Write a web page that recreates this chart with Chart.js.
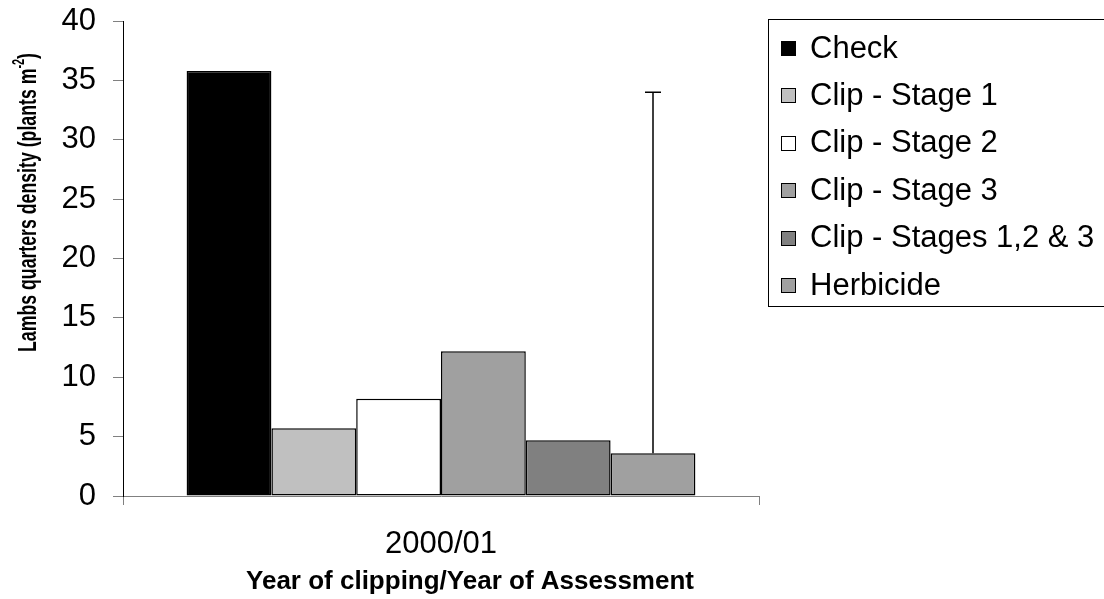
<!DOCTYPE html>
<html>
<head>
<meta charset="utf-8">
<script src="https://cdn.jsdelivr.net/npm/chart.js@4.4.1/dist/chart.umd.min.js"></script>
<style>
  html, body { margin: 0; padding: 0; background: #ffffff; }
  #c { display: block; }
</style>
</head>
<body>
<canvas id="c" width="1104" height="599"></canvas>
<script>
// ---- data ----
const categories = ['2000/01'];
const seriesLabels = ['Check', 'Clip - Stage 1', 'Clip - Stage 2', 'Clip - Stage 3', 'Clip - Stages 1,2 & 3', 'Herbicide'];
const checkValues = [35.8];
const clipStage1Values = [5.7];
const clipStage2Values = [8.2];
const clipStage3Values = [12.2];
const clipAllStagesValues = [4.7];
const herbicideValues = [3.6];
const herbicideErrorPlus = [30.4];
const yMin = 0, yMax = 40, yStep = 5;
const xTitleText = 'Year of clipping/Year of Assessment';
const yTitleMain = 'Lambs quarters density (plants m';
const yTitleSup = '-2';
const yTitleEnd = ')';

// ---- styles ----
const fills = ['#000000', '#c0c0c0', '#ffffff', '#a0a0a0', '#808080', '#a0a0a0'];
const seriesValues = [checkValues, clipStage1Values, clipStage2Values, clipStage3Values, clipAllStagesValues, herbicideValues];
const FONT = "'Liberation Sans', Arial, Helvetica, sans-serif";
Chart.defaults.font.family = FONT;
Chart.defaults.color = '#000000';

const datasets = seriesLabels.map((label, i) => ({
  label: label,
  data: seriesValues[i],
  backgroundColor: fills[i],
  borderColor: '#000000',
  borderWidth: 1.5,
  borderSkipped: false,
  categoryPercentage: 0.8,
  barPercentage: 1.0
}));

const errorBarPlugin = {
  id: 'errorBars',
  afterDatasetsDraw(chart) {
    const ctx = chart.ctx;
    const yScale = chart.scales.y;
    const meta = chart.getDatasetMeta(5);
    ctx.save();
    ctx.strokeStyle = '#000000';
    ctx.lineWidth = 1.5;
    meta.data.forEach((bar, i) => {
      const topVal = herbicideValues[i] + herbicideErrorPlus[i];
      const yTop = yScale.getPixelForValue(topVal);
      const yBase = bar.y;
      ctx.beginPath();
      ctx.moveTo(bar.x, yBase);
      ctx.lineTo(bar.x, yTop);
      ctx.moveTo(bar.x - 8, yTop);
      ctx.lineTo(bar.x + 8, yTop);
      ctx.stroke();
    });
    ctx.restore();
  }
};

const axisTitlesPlugin = {
  id: 'axisTitles',
  afterDraw(chart) {
    const ctx = chart.ctx;
    ctx.save();
    ctx.fillStyle = '#000000';
    // x title
    ctx.font = 'bold 26px ' + FONT;
    ctx.textAlign = 'center';
    ctx.textBaseline = 'middle';
    ctx.fillText(xTitleText, 470, 582);
    // y title (rotated, condensed along its length)
    const mainFont = 'bold 26px ' + FONT;
    const supFont = 'bold 16px ' + FONT;
    ctx.font = mainFont;
    const w1 = ctx.measureText(yTitleMain).width;
    const w3 = ctx.measureText(yTitleEnd).width;
    ctx.font = supFont;
    const w2 = ctx.measureText(yTitleSup).width;
    const total = w1 + w2 + w3;
    const targetLen = 299;
    ctx.translate(29, 352);
    ctx.rotate(-Math.PI / 2);
    ctx.scale(targetLen / total, 1);
    ctx.textAlign = 'left';
    ctx.textBaseline = 'middle';
    ctx.font = mainFont;
    ctx.fillText(yTitleMain, 0, 0);
    ctx.font = supFont;
    ctx.fillText(yTitleSup, w1, -9);
    ctx.font = mainFont;
    ctx.fillText(yTitleEnd, w1 + w2, 0);
    ctx.restore();
  }
};

const boxLegendPlugin = {
  id: 'boxLegend',
  afterDraw(chart) {
    const ctx = chart.ctx;
    const left = 768.5, top = 19.5, bottom = 306.5, right = 1110;
    ctx.save();
    ctx.strokeStyle = '#000000';
    ctx.lineWidth = 1;
    ctx.strokeRect(left, top, right - left, bottom - top);
    ctx.font = '31px ' + FONT;
    ctx.textBaseline = 'middle';
    ctx.textAlign = 'left';
    chart.data.datasets.forEach((ds, i) => {
      const cy = 48 + i * 47.4;
      ctx.fillStyle = ds.backgroundColor;
      ctx.fillRect(781, Math.round(cy - 7), 15, 15);
      ctx.strokeStyle = '#000000';
      ctx.strokeRect(781.5, Math.round(cy - 7) + 0.5, 14, 14);
      ctx.fillStyle = '#000000';
      ctx.fillText(ds.label, 810, cy + 1);
    });
    ctx.restore();
  }
};

new Chart(document.getElementById('c'), {
  type: 'bar',
  data: { labels: categories, datasets: datasets },
  options: {
    responsive: false,
    animation: false,
    events: [],
    layout: { padding: { left: 0, top: 21, right: 345, bottom: 0 } },
    plugins: {
      legend: { display: false },
      tooltip: { enabled: false },
      title: { display: false }
    },
    scales: {
      x: {
        offset: true,
        grid: { display: true, offset: true, drawOnChartArea: false, drawTicks: true, tickLength: 9, color: '#808080', lineWidth: 1 },
        border: { display: true, color: '#808080', width: 1 },
        ticks: { font: { size: 31 }, color: '#000000', padding: 21, maxRotation: 0 },
        title: { display: false },
        afterFit(scale) { scale.height = 103; }
      },
      y: {
        min: yMin,
        max: yMax,
        ticks: { stepSize: yStep, font: { size: 31 }, color: '#000000', padding: 17 },
        grid: { display: true, drawOnChartArea: false, drawTicks: true, tickLength: 10, color: '#808080', lineWidth: 1 },
        border: { display: true, color: '#000000', width: 1 },
        title: { display: false },
        afterFit(scale) { scale.width = 123; scale.paddingTop = 0; scale.paddingBottom = 0; }
      }
    }
  },
  plugins: [errorBarPlugin, axisTitlesPlugin, boxLegendPlugin]
});
</script>
</body>
</html>
